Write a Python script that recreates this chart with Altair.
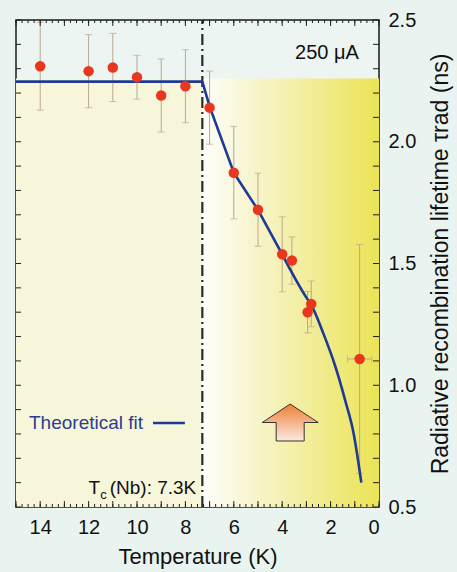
import altair as alt
import pandas as pd
import numpy as np

# ---- data ----
temps = [14, 12, 11, 10, 9, 8, 7, 6, 5, 4, 3.6, 2.8, 2.95, 0.8]
tau = [2.31, 2.29, 2.305, 2.265, 2.19, 2.228, 2.14, 1.873, 1.721, 1.538, 1.512, 1.334, 1.30, 1.108]
tau_err = [0.18, 0.15, 0.14, 0.09, 0.15, 0.15, 0.15, 0.19, 0.15, 0.154, 0.097, 0.094, 0.085, 0.47]

last_T = [0.8]
last_tau = [1.108]
last_T_err = [0.5]

flat_T = [15, 7.3]
flat_tau = [2.247, 2.247]
upper_T = [7.3, 7.0, 6.0, 5.0, 4.0]
upper_tau = [2.247, 2.145, 1.873, 1.72, 1.537]
lower_T = [4.0, 3.0, 2.8, 2.3, 1.8, 1.4, 1.05, 0.73]
lower_tau = [1.537, 1.36, 1.33, 1.213, 1.076, 0.939, 0.803, 0.600]

Tc = 7.3
x_labels = [0, 2, 4, 6, 8, 10, 12, 14]
y_labels = [0.5, 1.0, 1.5, 2.0, 2.5]

W, H = 363, 487
FONT = "Liberation Sans"

xs = alt.Scale(domain=[0, 15], reverse=True, nice=False)
ys = alt.Scale(domain=[0.5, 2.5], nice=False)

pts = pd.DataFrame({"T": temps, "tau": tau, "err": tau_err})
pts["lo"] = pts["tau"] - pts["err"]
pts["hi"] = pts["tau"] + pts["err"]
flat = pd.DataFrame({"T": flat_T, "tau": flat_tau})
upper = pd.DataFrame({"T": upper_T, "tau": upper_tau})
lower = pd.DataFrame({"T": lower_T, "tau": lower_tau})
hx = pd.DataFrame({"T": last_T, "tau": last_tau, "e": last_T_err})
hx["lo"] = hx["T"] - hx["e"]
hx["hi"] = hx["T"] + hx["e"]

# background regions
left_bg = alt.Chart(pd.DataFrame({"a": [Tc], "b": [15], "c": [0.5], "d": [2.26]})).mark_rect(
    color="#f8f6da").encode(
    x=alt.X("a:Q", scale=xs, axis=alt.Axis(
        values=x_labels, title="Temperature (K)", grid=False, domain=False, tickSize=0,
        labelFontSize=20, labelPadding=10, labelFont=FONT, labelColor="#111",
        titleFontSize=22, titleFont=FONT, titleFontWeight="normal", titlePadding=9, titleColor="#111")),
    x2="b:Q",
    y=alt.Y("c:Q", scale=ys, axis=alt.Axis(
        orient="right", values=y_labels, format=".1f", title="Radiative recombination lifetime τrad (ns)",
        grid=False, domain=False, tickSize=0, labelFontSize=20, labelPadding=9, labelFont=FONT,
        labelColor="#111", titleAngle=270, titleBaseline="top", titleFontSize=23, titleFont=FONT,
        titleFontWeight="normal", titlePadding=14, titleColor="#111")),
    y2="d:Q",
)

grad = alt.Gradient(gradient="linear", x1=0, x2=1, y1=0, y2=0,
                    stops=[alt.GradientStop(color="#fefefb", offset=0),
                           alt.GradientStop(color="#f6f3c4", offset=0.35),
                           alt.GradientStop(color="#ebe456", offset=1)])
right_bg = alt.Chart(pd.DataFrame({"a": [0], "b": [Tc], "c": [0.5], "d": [2.26]})).mark_rect(
    color=grad).encode(x=alt.X("a:Q", scale=xs), x2="b:Q", y=alt.Y("c:Q", scale=ys), y2="d:Q")

tc_line = alt.Chart(pd.DataFrame({"T": [Tc], "a": [0.5], "b": [2.5]})).mark_rule(
    color="#2a2a2a", strokeWidth=2.2, strokeDash=[11, 4, 2, 4]).encode(
    x=alt.X("T:Q", scale=xs), y=alt.Y("a:Q", scale=ys), y2="b:Q")

ebar = alt.Chart(pts).mark_rule(color="#b9a78e", strokeWidth=1).encode(
    x=alt.X("T:Q", scale=xs), y=alt.Y("lo:Q", scale=ys), y2="hi:Q")
cap_lo = alt.Chart(pts).mark_tick(orient="horizontal", color="#b9a78e", size=7, thickness=1).encode(
    x=alt.X("T:Q", scale=xs), y=alt.Y("lo:Q", scale=ys))
cap_hi = alt.Chart(pts).mark_tick(orient="horizontal", color="#b9a78e", size=7, thickness=1).encode(
    x=alt.X("T:Q", scale=xs), y=alt.Y("hi:Q", scale=ys))
hbar = alt.Chart(hx).mark_rule(color="#b9a78e", strokeWidth=1).encode(
    x=alt.X("lo:Q", scale=xs), x2="hi:Q", y=alt.Y("tau:Q", scale=ys))
hcap1 = alt.Chart(hx).mark_tick(orient="vertical", color="#b9a78e", size=7, thickness=1).encode(
    x=alt.X("lo:Q", scale=xs), y=alt.Y("tau:Q", scale=ys))
hcap2 = alt.Chart(hx).mark_tick(orient="vertical", color="#b9a78e", size=7, thickness=1).encode(
    x=alt.X("hi:Q", scale=xs), y=alt.Y("tau:Q", scale=ys))

LINE_C = "#1e3a96"
flat_line = alt.Chart(flat).mark_line(color=LINE_C, strokeWidth=2.6).encode(
    x=alt.X("T:Q", scale=xs), y=alt.Y("tau:Q", scale=ys), order=alt.Order("T:Q", sort="descending"))
upper_line = alt.Chart(upper).mark_line(color=LINE_C, strokeWidth=2.6, strokeJoin="round").encode(
    x=alt.X("T:Q", scale=xs), y=alt.Y("tau:Q", scale=ys), order=alt.Order("T:Q", sort="descending"))
lower_line = alt.Chart(lower).mark_line(color=LINE_C, strokeWidth=2.6, interpolate="monotone").encode(
    x=alt.X("T:Q", scale=xs), y=alt.Y("tau:Q", scale=ys), order=alt.Order("T:Q", sort="descending"))

dots = alt.Chart(pts).mark_point(filled=True, color="#e8361f", size=110, opacity=1).encode(
    x=alt.X("T:Q", scale=xs), y=alt.Y("tau:Q", scale=ys))

# inward ticks
x_minor = pd.DataFrame({"T": np.arange(0, 15.001, 0.25)})
x_major = pd.DataFrame({"T": np.arange(0, 15.001, 1.0)})
y_ticks = pd.DataFrame({"v": np.round(np.arange(0.5, 2.5001, 0.1), 2)})
tk = dict(color="#222", strokeWidth=1)
tick_layers = [
    alt.Chart(x_minor).mark_rule(**tk).encode(x=alt.X("T:Q", scale=xs), y=alt.value(0), y2=alt.value(3)),
    alt.Chart(x_minor).mark_rule(**tk).encode(x=alt.X("T:Q", scale=xs), y=alt.value(H), y2=alt.value(H - 3)),
    alt.Chart(x_major).mark_rule(**tk).encode(x=alt.X("T:Q", scale=xs), y=alt.value(0), y2=alt.value(6)),
    alt.Chart(x_major).mark_rule(**tk).encode(x=alt.X("T:Q", scale=xs), y=alt.value(H), y2=alt.value(H - 6)),
    alt.Chart(y_ticks).mark_rule(**tk).encode(y=alt.Y("v:Q", scale=ys), x=alt.value(0), x2=alt.value(5)),
    alt.Chart(y_ticks).mark_rule(**tk).encode(y=alt.Y("v:Q", scale=ys), x=alt.value(W), x2=alt.value(W - 6)),
]

# annotations
ann = pd.DataFrame({"T": [2.15], "tau": [2.364], "t": ["250 μA"]})
ann_txt = alt.Chart(ann).mark_text(font=FONT, fontSize=20, color="#111").encode(
    x=alt.X("T:Q", scale=xs), y=alt.Y("tau:Q", scale=ys), text="t:N")

leg_line = alt.Chart(pd.DataFrame({"a": [9.34], "b": [8.02], "tau": [0.845]})).mark_rule(
    color=LINE_C, strokeWidth=2.6).encode(x=alt.X("a:Q", scale=xs), x2="b:Q", y=alt.Y("tau:Q", scale=ys))
leg_txt = alt.Chart(pd.DataFrame({"T": [9.75], "tau": [0.845], "t": ["Theoretical fit"]})).mark_text(
    font=FONT, fontSize=19, color="#2b3d8f", align="right", baseline="middle").encode(
    x=alt.X("T:Q", scale=xs), y=alt.Y("tau:Q", scale=ys), text="t:N")

tc_T = alt.Chart(pd.DataFrame({"T": [12.0], "tau": [0.578], "t": ["T"]})).mark_text(
    font=FONT, fontSize=19, color="#111", align="left", baseline="middle").encode(
    x=alt.X("T:Q", scale=xs), y=alt.Y("tau:Q", scale=ys), text="t:N")
tc_c = alt.Chart(pd.DataFrame({"T": [11.52], "tau": [0.578], "t": ["c"]})).mark_text(
    font=FONT, fontSize=13, color="#111", align="left", baseline="middle", dy=7).encode(
    x=alt.X("T:Q", scale=xs), y=alt.Y("tau:Q", scale=ys), text="t:N")
tc_rest = alt.Chart(pd.DataFrame({"T": [7.55], "tau": [0.578], "t": ["(Nb): 7.3K"]})).mark_text(
    font=FONT, fontSize=19, color="#111", align="right", baseline="middle").encode(
    x=alt.X("T:Q", scale=xs), y=alt.Y("tau:Q", scale=ys), text="t:N")

arrow_grad = alt.Gradient(gradient="linear", x1=0, x2=0, y1=0, y2=1,
                          stops=[alt.GradientStop(color="#ef7f32", offset=0),
                                 alt.GradientStop(color="#f4b48c", offset=0.5),
                                 alt.GradientStop(color="#fbe8e0", offset=1)])
arrow = alt.Chart(pd.DataFrame({"T": [3.67], "tau": [0.847]})).mark_point(
    shape="M0,-0.66 L1,0 L0.5,0 L0.5,0.66 L-0.5,0.66 L-0.5,0 L-1,0 Z",
    size=3136, filled=True, fill=arrow_grad, stroke="#333", strokeWidth=1, opacity=1).encode(
    x=alt.X("T:Q", scale=xs), y=alt.Y("tau:Q", scale=ys))

chart = alt.layer(
    left_bg, right_bg, tc_line, ebar, cap_lo, cap_hi, hbar, hcap1, hcap2,
    flat_line, upper_line, lower_line, dots,
    *tick_layers, ann_txt, leg_line, leg_txt, tc_T, tc_c, tc_rest, arrow
).properties(
    width=W, height=H,
    autosize=alt.AutoSizeParams(type="none"),
    padding={"left": 16, "top": 20, "right": 78, "bottom": 65},
    background="#e9f3f0",
).configure_view(stroke="#1a1a1a", strokeWidth=1.5, fill="#ecf5f2")

chart.save("out.html", embed_options={"renderer": "svg", "actions": False})
